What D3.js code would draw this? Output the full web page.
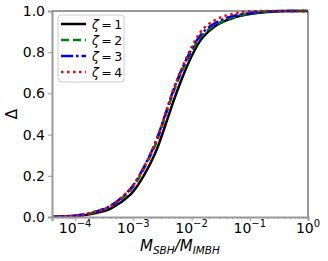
<!DOCTYPE html>
<html>
<head>
<meta charset="utf-8">
<script src="https://cdn.jsdelivr.net/npm/d3@7"></script>
<style>
  body { margin: 0; background: #fff; }
  text { font-family: "DejaVu Sans", sans-serif; }
</style>
</head>
<body>
<div id="chart"></div>
<script>
// mass ratio samples (x) and Delta for each zeta
var ratio = [4e-5, 6e-5, 1e-4, 1.5e-4, 2.5e-4, 4e-4, 6e-4, 1e-3, 1.5e-3, 2.5e-3, 4e-3, 5e-3, 7e-3, 1e-2, 1.4e-2, 2.5e-2, 5e-2, 0.1, 0.2, 0.5, 1]
var zeta1 = [0.0, 0.002, 0.005, 0.01, 0.022, 0.04, 0.07, 0.125, 0.2, 0.325, 0.49, 0.57, 0.68, 0.78, 0.855, 0.925, 0.965, 0.985, 0.995, 1.0, 1.0]
var zeta2 = [0.0, 0.003, 0.006, 0.013, 0.028, 0.05, 0.085, 0.148, 0.232, 0.365, 0.535, 0.615, 0.715, 0.805, 0.87, 0.93, 0.968, 0.988, 0.997, 1.0, 1.0]
var zeta3 = [0.0, 0.003, 0.007, 0.014, 0.03, 0.053, 0.09, 0.155, 0.24, 0.375, 0.545, 0.625, 0.725, 0.815, 0.88, 0.94, 0.975, 0.99, 0.998, 1.0, 1.0]
var zeta4 = [0.0, 0.003, 0.007, 0.014, 0.03, 0.053, 0.09, 0.155, 0.24, 0.375, 0.545, 0.628, 0.73, 0.825, 0.895, 0.955, 0.985, 0.997, 1.0, 1.0, 1.0]
var labels = ["1", "2", "3", "4"]
var yTicks = [0, 0.2, 0.4, 0.6, 0.8, 1.0]
var xTicks = [1e-4, 1e-3, 1e-2, 1e-1, 1]
var xTickExp = ["\u22124", "\u22123", "\u22122", "\u22121", "0"]

var series = [
    {name: labels[0], values: zeta1, color: "#000000", dash: null},
    {name: labels[1], values: zeta2, color: "#008000", dash: "8,4"},
    {name: labels[2], values: zeta3, color: "#0000ff", dash: "12,3,2.5,3"},
    {name: labels[3], values: zeta4, color: "#ff0000", dash: "2.5,3.5"}
]

var margin = {top: 11, right: 20, bottom: 44, left: 52};
var W = 328, H = 261;
var width = W - margin.left - margin.right;
var height = H - margin.top - margin.bottom;

var svg = d3.select("#chart").append("svg")
    .attr("width", W)
    .attr("height", H)

var g = svg.append("g")
    .attr("transform", "translate(" + margin.left + "," + margin.top + ")")

var x = d3.scaleLog().domain([4e-5, 1]).range([0, width])
var y = d3.scaleLinear().domain([0, 1]).range([height, 0])

g.append("clipPath").attr("id", "clip")
    .append("rect").attr("width", width).attr("height", height + 2).attr("y", -2)

//lines
var line = d3.line()
    .x(function(d) { return x(d[0]) })
    .y(function(d) { return y(d[1]) })
    .curve(d3.curveMonotoneX)

series.forEach(function(s) {
    g.append("path")
        .datum(ratio.map(function(r, i) { return [r, s.values[i]] }))
        .attr("clip-path", "url(#clip)")
        .attr("fill", "none")
        .attr("stroke", s.color)
        .attr("stroke-width", 2.5)
        .attr("stroke-dasharray", s.dash)
        .attr("d", line)
})

// frame: top/right dark, left/bottom grey
g.append("line").attr("x1", 0).attr("x2", width).attr("y1", 0).attr("y2", 0)
    .attr("stroke", "#333").attr("stroke-width", 1)
g.append("line").attr("x1", width).attr("x2", width).attr("y1", 0).attr("y2", height)
    .attr("stroke", "#333").attr("stroke-width", 1)

//y-axis
var yAxis = g.append("g")
    .call(d3.axisLeft(y).tickValues(yTicks).tickFormat(d3.format(".1f")).tickSize(4).tickPadding(3))
yAxis.select(".domain").attr("stroke", "#999").attr("stroke-width", 2)
yAxis.selectAll(".tick line").attr("stroke", "#999")
yAxis.selectAll("text").attr("font-size", 14).attr("fill", "#000")
    .attr("font-family", "DejaVu Sans")

//x-axis major + minor
var minor = []
for (var e = -5; e < 0; e++) {
    for (var m = 2; m <= 9; m++) {
        var v = m * Math.pow(10, e)
        if (v >= 4e-5 && v <= 1) minor.push(v)
    }
}
var xMinor = g.append("g")
    .attr("transform", "translate(0," + height + ")")
    .call(d3.axisBottom(x).tickValues(minor).tickFormat("").tickSize(2))
xMinor.select(".domain").remove()
xMinor.selectAll(".tick line").attr("stroke", "#999")

var xAxis = g.append("g")
    .attr("transform", "translate(0," + height + ")")
    .call(d3.axisBottom(x).tickValues(xTicks).tickFormat("").tickSize(4))
xAxis.select(".domain").attr("stroke", "#999").attr("stroke-width", 2)
xAxis.selectAll(".tick line").attr("stroke", "#999")

xTicks.forEach(function(t, i) {
    var txt = g.append("text")
        .attr("x", x(t))
        .attr("y", height + 16)
        .attr("text-anchor", "middle")
        .attr("font-size", 14)
        .attr("fill", "#000")
    txt.append("tspan").text("10")
    txt.append("tspan").attr("dy", -6).attr("font-size", 10).text(xTickExp[i])
})

// axis labels
var xl = svg.append("text")
    .attr("x", margin.left + width / 2)
    .attr("y", 251)
    .attr("text-anchor", "middle")
    .attr("font-size", 15)
    .attr("font-style", "italic")
xl.append("tspan").text("M")
xl.append("tspan").attr("dy", 3).attr("font-size", 10.5).text("SBH")
xl.append("tspan").attr("dy", -3).text("/M")
xl.append("tspan").attr("dy", 3).attr("font-size", 10.5).text("IMBH")

svg.append("text")
    .attr("transform", "translate(17," + (margin.top + height / 2) + ") rotate(-90)")
    .attr("text-anchor", "middle")
    .attr("font-size", 15)
    .text("\u0394")

// legend
var lg = g.append("g").attr("transform", "translate(6,4)")
lg.append("rect")
    .attr("width", 66).attr("height", 67).attr("rx", 3)
    .attr("fill", "#fff").attr("fill-opacity", 0.8)
    .attr("stroke", "#ccc").attr("stroke-width", 1)
series.forEach(function(s, i) {
    var yy = 9 + i * 16
    lg.append("line")
        .attr("x1", 3).attr("x2", 28).attr("y1", yy).attr("y2", yy)
        .attr("stroke", s.color).attr("stroke-width", 2.5)
        .attr("stroke-dasharray", s.dash)
    var t = lg.append("text")
        .attr("x", 34).attr("y", yy + 4.5)
        .attr("font-size", 12.5)
    t.append("tspan").attr("font-style", "italic").text("\u03b6")
    t.append("tspan").text("\u2009=\u2009" + s.name)
})
</script>
</body>
</html>
